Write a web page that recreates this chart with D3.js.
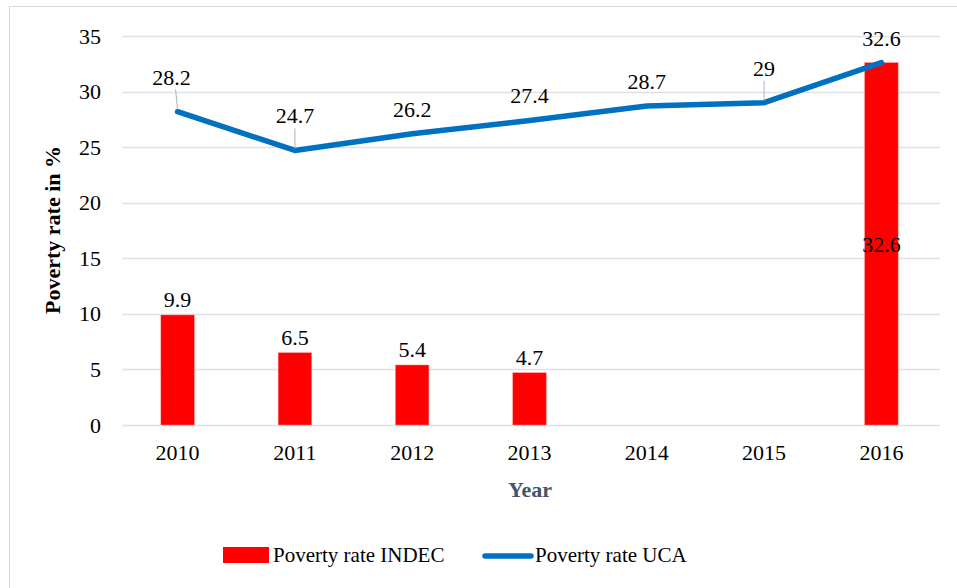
<!DOCTYPE html>
<html>
<head>
<meta charset="utf-8">
<script src="https://cdn.jsdelivr.net/npm/d3@7"></script>
<style>
  body { margin: 0; background: #fff; }
  svg text { font-family: "Liberation Serif", "Times New Roman", serif !important; }
</style>
</head>
<body>
<svg width="957" height="588"></svg>
<script>
// data
const years = ['2010', '2011', '2012', '2013', '2014', '2015', '2016'];
const indec = [9.9, 6.5, 5.4, 4.7, null, null, 32.6];
const uca = [28.2, 24.7, 26.2, 27.4, 28.7, 29, 32.6];
const yTicks = [0, 5, 10, 15, 20, 25, 30, 35];
// labels with a little leader line pointing down to the point
const leader = [true, true, false, false, false, true, false];

const fs = 22;
const svg = d3.select('svg');

// outer border of the chart (runs off the right/bottom edge)
svg.append('rect')
  .attr('x', 9.5).attr('y', 6.5)
  .attr('width', 960).attr('height', 600)
  .attr('fill', 'none')
  .attr('stroke', '#d9d9d9');

const x = d3.scaleBand()
  .domain(years)
  .range([119, 940])
  .paddingInner(0.715)
  .paddingOuter(0.357);

const y = d3.scaleLinear()
  .domain([0, 35])
  .range([425, 36]);

// grid
svg.append('g')
  .selectAll('line')
  .data(yTicks)
  .join('line')
  .attr('x1', 122).attr('x2', 940)
  .attr('y1', d => Math.round(y(d)) + 0.5)
  .attr('y2', d => Math.round(y(d)) + 0.5)
  .attr('stroke', '#dde1e7')
  .attr('stroke-width', 1.5);

// y axis labels
const yAxis = d3.axisLeft(y).tickValues(yTicks).tickSize(0).tickPadding(0);
svg.append('g')
  .attr('transform', 'translate(101,0)')
  .call(yAxis)
  .call(g => g.select('.domain').remove())
  .selectAll('text')
  .attr('font-size', fs)
  .attr('fill', '#000');

// x axis labels
const xAxis = d3.axisBottom(x).tickSize(0).tickPadding(0);
svg.append('g')
  .attr('transform', 'translate(0,444)')
  .call(xAxis)
  .call(g => g.select('.domain').remove())
  .selectAll('text')
  .attr('font-size', fs)
  .attr('fill', '#000');

// bars
const barData = years.map((yr, i) => ({ yr, v: indec[i] })).filter(d => d.v !== null);
svg.append('g')
  .selectAll('rect')
  .data(barData)
  .join('rect')
  .attr('x', d => x(d.yr))
  .attr('y', d => y(d.v))
  .attr('width', x.bandwidth())
  .attr('height', d => y(0) - y(d.v))
  .attr('fill', '#ff0000')
  .attr('stroke', '#ff8080')
  .attr('stroke-width', 0.5);

// bar labels (last one sits in the middle of the bar)
svg.append('g')
  .selectAll('text')
  .data(barData)
  .join('text')
  .attr('x', d => x(d.yr) + x.bandwidth() / 2)
  .attr('y', d => d.yr === '2016' ? y(d.v / 2) + 8 : y(d.v) - 8)
  .attr('text-anchor', 'middle')
  .attr('font-size', fs)
  .text(d => d.v);

// line
const cx = yr => x(yr) + x.bandwidth() / 2;
const lineData = years.map((yr, i) => ({ yr, v: uca[i], lead: leader[i] }));
svg.append('path')
  .datum(lineData)
  .attr('d', d3.line().x(d => cx(d.yr)).y(d => y(d.v)))
  .attr('fill', 'none')
  .attr('stroke', '#0070c0')
  .attr('stroke-width', 5.5)
  .attr('stroke-linecap', 'round')
  .attr('stroke-linejoin', 'round');

// leader lines
svg.append('g')
  .selectAll('line')
  .data(lineData.filter(d => d.lead))
  .join('line')
  .attr('x1', d => cx(d.yr) - (d.yr === '2010' ? 2 : 0))
  .attr('x2', d => cx(d.yr))
  .attr('y1', d => y(d.v) - 22)
  .attr('y2', d => y(d.v) - 2)
  .attr('stroke', '#a6b4c4')
  .attr('stroke-width', 1);

// line labels
svg.append('g')
  .selectAll('text')
  .data(lineData)
  .join('text')
  .attr('x', d => cx(d.yr) + (d.yr === '2010' ? -6 : 0))
  .attr('y', d => y(d.v) - (d.lead ? 27 : 17))
  .attr('text-anchor', 'middle')
  .attr('font-size', fs)
  .text(d => d.v);

// axis titles
svg.append('text')
  .attr('transform', 'translate(60,230) rotate(-90)')
  .attr('text-anchor', 'middle')
  .attr('font-size', fs)
  .attr('font-weight', 'bold')
  .text('Poverty rate in %');

svg.append('text')
  .attr('x', 530).attr('y', 497)
  .attr('text-anchor', 'middle')
  .attr('font-size', fs)
  .attr('font-weight', 'bold')
  .attr('fill', '#44546a')
  .text('Year');

// legend
const legend = svg.append('g');
legend.append('rect')
  .attr('x', 223).attr('y', 547)
  .attr('width', 46).attr('height', 16)
  .attr('fill', '#ff0000');
legend.append('text')
  .attr('x', 273).attr('y', 562)
  .attr('font-size', 21)
  .text('Poverty rate INDEC');
legend.append('line')
  .attr('x1', 485).attr('x2', 531)
  .attr('y1', 556).attr('y2', 556)
  .attr('stroke', '#0070c0')
  .attr('stroke-width', 5.5)
  .attr('stroke-linecap', 'round');
legend.append('text')
  .attr('x', 535).attr('y', 562)
  .attr('font-size', 21)
  .text('Poverty rate UCA');
</script>
</body>
</html>
